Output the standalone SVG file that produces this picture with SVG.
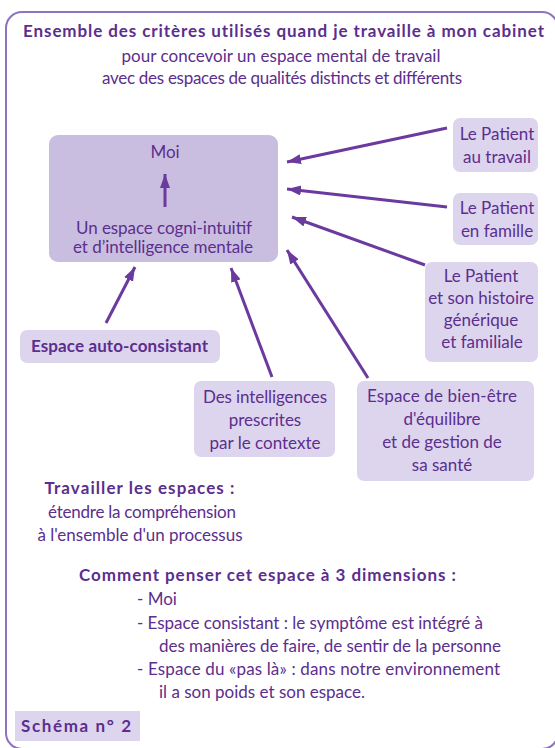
<svg xmlns="http://www.w3.org/2000/svg" width="555" height="748" viewBox="0 0 555 748">
<defs>
<style>
.t{font-family:Lato,"Open Sans","Liberation Sans",sans-serif;fill:#5c2e8e;font-size:17px;text-anchor:middle}
.b{font-weight:bold;letter-spacing:1px}
.l{text-anchor:start}
.box{fill:#ddd5ee}
.main{fill:#c9bee0}
.c{stroke:#6b3a9e;stroke-width:3;fill:none;marker-end:url(#ah)}
</style>
<marker id="ah" markerUnits="userSpaceOnUse" markerWidth="16" markerHeight="12" refX="14" refY="5" orient="auto">
<path d="M0,0 L14,5 L0,10 Z" fill="#6b3a9e"/>
</marker>
</defs>
<rect x="0" y="0" width="555" height="748" fill="#ffffff"/>
<rect x="6" y="12" width="552" height="737" rx="16" fill="none" stroke="#8e72bd" stroke-width="2"/>
<g id="title">
<text class="t b" x="284" y="37" font-size="16.5" textLength="522">Ensemble des critères utilisés quand je travaille à mon cabinet</text>
<text class="t" x="281" y="62" textLength="319">pour concevoir un espace mental de travail</text>
<text class="t" x="282" y="84" textLength="360">avec des espaces de qualités distincts et différents</text>
</g>
<g id="main">
<rect class="main" x="49" y="135" width="229" height="127" rx="9"/>
<text class="t" x="165" y="158" font-size="18">Moi</text>
<text class="t" x="164" y="234" font-size="18" textLength="176">Un espace cogni-intuitif</text>
<text class="t" x="163" y="253" font-size="18" textLength="180">et d’intelligence mentale</text>
</g>
<g id="patient-travail">
<rect class="box" x="453" y="118" width="85" height="54" rx="7"/>
<text class="t" x="497" y="140">Le Patient</text>
<text class="t" x="497" y="163">au travail</text>
</g>
<g id="patient-famille">
<rect class="box" x="453" y="193" width="85" height="52" rx="7"/>
<text class="t" x="497" y="214">Le Patient</text>
<text class="t" x="497" y="237">en famille</text>
</g>
<g id="patient-histoire">
<rect class="box" x="425" y="262" width="113" height="100" rx="7"/>
<text class="t" x="481" y="282">Le Patient</text>
<text class="t" x="481" y="304">et son histoire</text>
<text class="t" x="481" y="326">générique</text>
<text class="t" x="482" y="348">et familiale</text>
</g>
<g id="auto-consistant">
<rect class="box" x="20" y="330" width="200" height="33" rx="7"/>
<text class="t b" x="120" y="352" font-size="15.5" textLength="178">Espace auto-consistant</text>
</g>
<g id="intelligences">
<rect class="box" x="194" y="381" width="141" height="76" rx="7"/>
<text class="t" x="265" y="403" textLength="124">Des intelligences</text>
<text class="t" x="265" y="426">prescrites</text>
<text class="t" x="265" y="449">par le contexte</text>
</g>
<g id="bien-etre">
<rect class="box" x="357" y="381" width="177" height="100" rx="7"/>
<text class="t" x="442" y="402" textLength="150">Espace de bien-être</text>
<text class="t" x="442" y="425">d'équilibre</text>
<text class="t" x="442" y="448">et de gestion de</text>
<text class="t" x="442" y="471">sa santé</text>
</g>
<g id="connectors">
<line class="c" x1="165" y1="207" x2="165" y2="174"/>
<line class="c" x1="447" y1="128" x2="287" y2="162"/>
<line class="c" x1="447" y1="207" x2="287" y2="189"/>
<line class="c" x1="425" y1="265" x2="292" y2="217"/>
<line class="c" x1="368" y1="378" x2="287" y2="250"/>
<line class="c" x1="272" y1="377" x2="231" y2="268"/>
<line class="c" x1="106" y1="323" x2="135" y2="267"/>
</g>
<g id="notes">
<text class="t b" x="140" y="494" font-size="16.5" textLength="191">Travailler les espaces :</text>
<text class="t" x="142" y="518" textLength="188">étendre la compréhension</text>
<text class="t" x="140" y="541" textLength="205">à l'ensemble d'un processus</text>
<text class="t b" x="268" y="581" font-size="16.5" textLength="378">Comment penser cet espace à 3 dimensions :</text>
<text class="t l" x="137" y="605">- Moi</text>
<text class="t l" x="137" y="629" textLength="346">- Espace consistant : le symptôme est intégré à</text>
<text class="t l" x="159" y="652" textLength="342">des manières de faire, de sentir de la personne</text>
<text class="t l" x="137" y="675" textLength="363">- Espace du «pas là» : dans notre environnement</text>
<text class="t l" x="159" y="698" textLength="206">il a son poids et son espace.</text>
</g>
<g id="schema">
<rect class="box" x="15" y="711" width="125" height="30"/>
<text class="t b l" x="21" y="732" font-size="16.5" textLength="111">Schéma n° 2</text>
</g>
</svg>
